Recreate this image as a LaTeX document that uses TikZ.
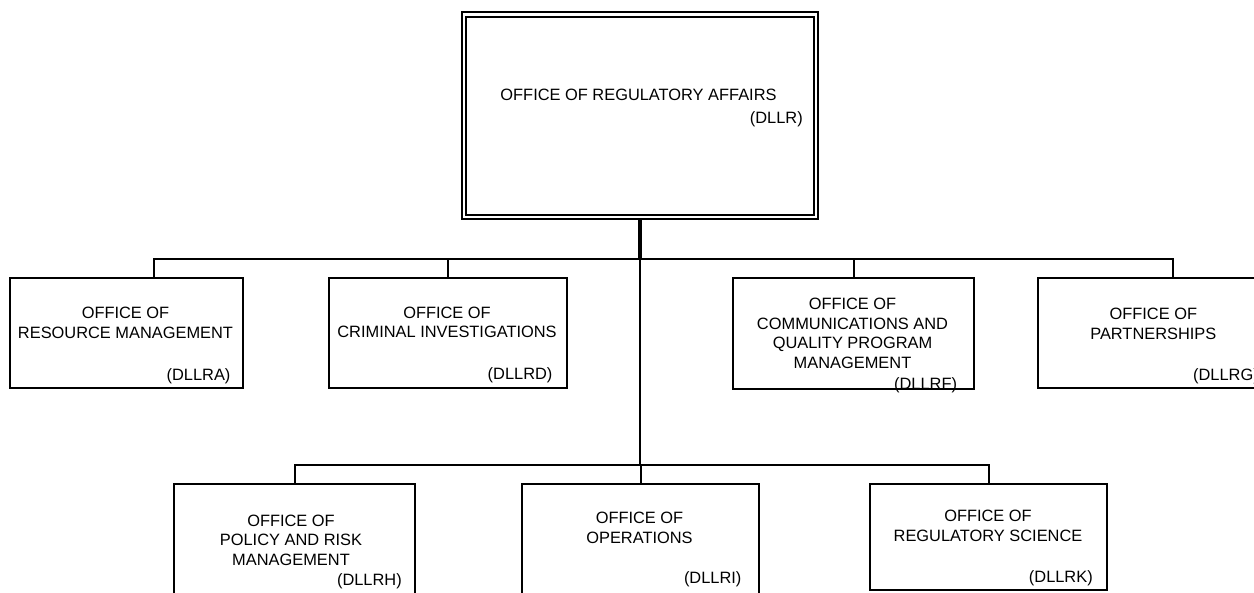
\documentclass[tikz,border=0pt]{standalone}
\usepackage{fontspec}
\setmainfont{Liberation Sans}
\tikzset{
	office/.style = {shape=rectangle, draw, line width=1.5pt, inner sep=0pt},
	headoffice/.style = {office, double, line width=1.5pt, double distance=2.2pt, outer sep=2.6pt},
	otext/.style = {align=center, inner sep=0pt, font=\fontsize{12.3}{14.6}\selectfont},
	ocode/.style = {anchor=base east, inner sep=0pt, font=\fontsize{12.3}{14.6}\selectfont},
	link/.style = {line width=1.5pt},
	trunk/.style = {line width=2.3pt},
}

\begin{document}
\begin{tikzpicture}[x=0.75pt, y=0.75pt]
		\useasboundingbox (0,0) rectangle (1254,593);
		\clip (0,0) rectangle (1254,593);

		\node[headoffice, minimum width=264pt, minimum height=151.9pt] (ora) at (640,477.25) {};
		\node[otext] (ora-t) at (638.5,498) {OFFICE OF REGULATORY AFFAIRS};
		\node[ocode] (ora-c) at (803,469) {(DLLR)};

		\node[office, minimum width=174.75pt, minimum height=82.5pt] (orm) at (126.5,260) {};
		\node[otext] (orm-t) at (125.5,270) {OFFICE OF\\RESOURCE MANAGEMENT};
		\node[ocode] (orm-c) at (230.7,212) {(DLLRA)};

		\node[office, minimum width=178.5pt, minimum height=82.5pt] (oci) at (448,260) {};
		\node[otext] (oci-t) at (447,270.5) {OFFICE OF\\CRIMINAL INVESTIGATIONS};
		\node[ocode] (oci-c) at (552.7,213) {(DLLRD)};

		\node[office, minimum width=180.75pt, minimum height=83.25pt] (ocq) at (853.5,259.5) {};
		\node[otext] (ocq-t) at (852.5,259.7) {OFFICE OF\\COMMUNICATIONS AND\\QUALITY PROGRAM\\MANAGEMENT};
		\node[ocode] (ocq-c) at (957.3,203.5) {(DLLRF)};

		\node[office, minimum width=175.5pt, minimum height=82.5pt] (op) at (1155,260) {};
		\node[otext] (op-t) at (1153.3,269) {OFFICE OF\\PARTNERSHIPS};
		\node[ocode] (op-c) at (1259,212) {(DLLRG)};

		\node[office, minimum width=180.75pt, minimum height=93.75pt] (opr) at (294.5,46.5) {};
		\node[otext] (opr-t) at (291,53) {OFFICE OF\\POLICY AND RISK\\MANAGEMENT};
		\node[ocode] (opr-c) at (402,7.5) {(DLLRH)};

		\node[office, minimum width=177.75pt, minimum height=93.75pt] (oo) at (640.5,46.5) {};
		\node[otext] (oo-t) at (639.5,65) {OFFICE OF\\OPERATIONS};
		\node[ocode] (oo-c) at (741.7,9) {(DLLRI)};

		\node[office, minimum width=177.75pt, minimum height=79.5pt] (ors) at (988.5,56) {};
		\node[otext] (ors-t) at (988,67) {OFFICE OF\\REGULATORY SCIENCE};
		\node[ocode] (ors-c) at (1093,10) {(DLLRK)};

		\coordinate (bus1) at (640,333.5);
		\coordinate (bus2) at (640,128);

		\draw[trunk] (ora.south) -- (bus1);
		\draw[link] (bus1) -- (bus2);
		\draw[link] ([xshift=20.6pt]orm.north) |- (bus1) -| ([xshift=13.5pt]op.north);
		\draw[link] (oci.north) -- (oci.north |- bus1);
		\draw[link] (ocq.north) -- (ocq.north |- bus1);
		\draw[link] (opr.north) |- (bus2) -| (ors.north);
		\draw[link] (oo.north) -- (oo.north |- bus2);
	\end{tikzpicture}
\end{document}
